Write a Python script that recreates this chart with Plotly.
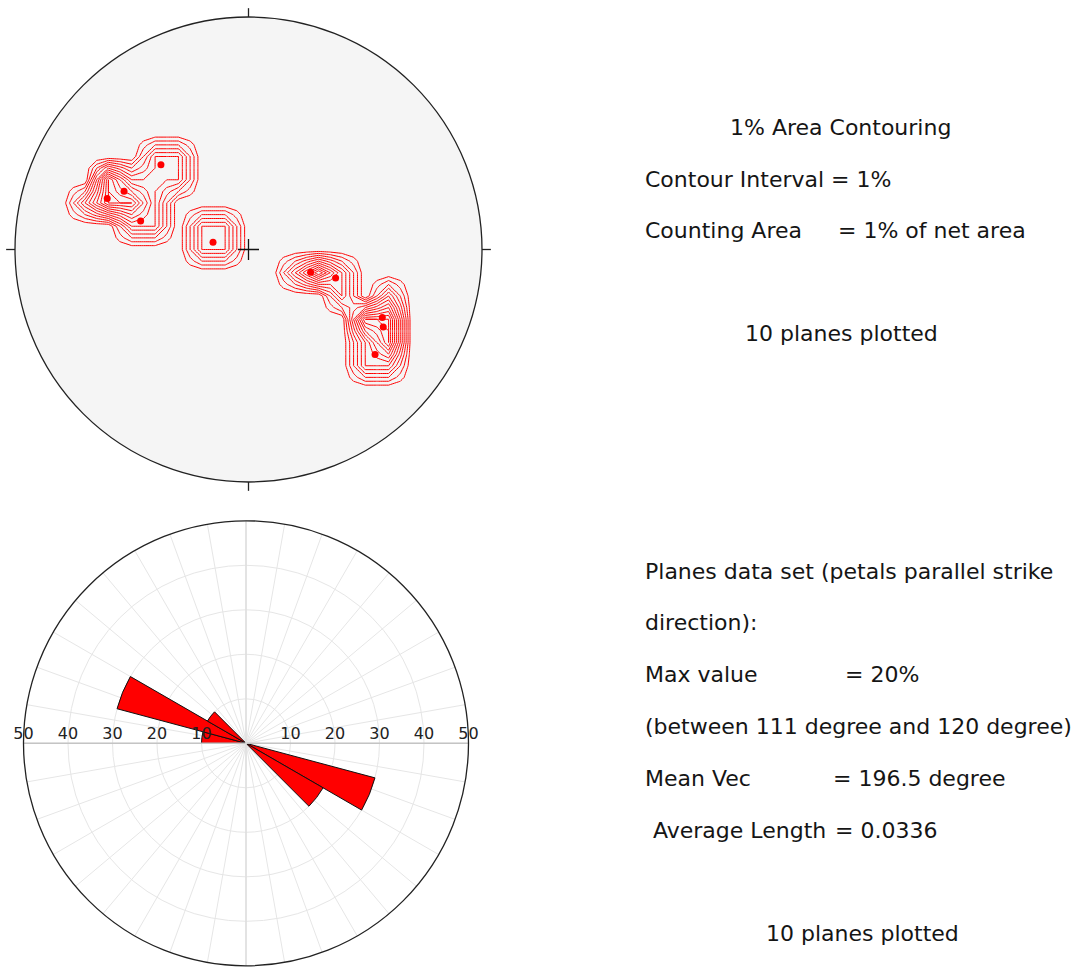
import numpy as np
import plotly.graph_objects as go

# ---------------------------------------------------------------------------
# Data
# ---------------------------------------------------------------------------
# Poles to the 10 planes on the lower-hemisphere equal-area net
# (unit net radius, +x = east, +y = north)
pole_x = [-0.375, -0.533, -0.605, -0.462, -0.152, 0.266, 0.373, 0.573, 0.577, 0.542]
pole_y = [0.365, 0.251, 0.219, 0.123, 0.031, -0.098, -0.123, -0.292, -0.333, -0.452]

# Rose diagram: azimuth where each petal's bin starts (deg) and its length (%)
rose_bin_start = [105, 120, 270, 285, 300]
rose_percent = [30, 20, 10, 30, 10]
rose_ring_labels = [10, 20, 30, 40, 50]

# Text panels
contour_title = "1% Area Contouring"
contour_rows = [("Contour Interval", "= 1%"), ("Counting Area", "= 1% of net area")]
rose_rows = [
    ("Planes data set (petals parallel strike", None),
    ("direction):", None),
    ("Max value", "= 20%"),
    ("(between 111 degree and 120 degree)", None),
    ("Mean Vec", "= 196.5 degree"),
    ("Average Length", "= 0.0336"),
]
planes_note = "10 planes plotted"

# ---------------------------------------------------------------------------
# Settings
# ---------------------------------------------------------------------------
W, H = 1072, 969
FONT = "DejaVu Sans"
RED = "#ff0000"

GRID_STEP = 0.1          # counting grid spacing (net radii)
COUNT_RADIUS = 0.1       # counting circle = 1% of the net area
PERCENT_PER_POLE = 6
CONTOUR_INTERVAL = 1
REFINE = 2               # bilinear refinement of the counting grid for contouring
ROSE_BIN_WIDTH = 15
ROSE_MAX = 50
NET_TICK = 0.038         # tick length outside the net (net radii)
ROSE_TICK = 1.6          # tick length outside the rose (radial units)


def px_x(p):
    return p / W


def px_y(p):
    return 1 - p / H


# ---------------------------------------------------------------------------
# Counting-circle density on a regular grid
# ---------------------------------------------------------------------------
nodes = np.arange(-10, 11) * GRID_STEP
gx, gy = np.meshgrid(nodes, nodes)
px = np.asarray(pole_x)
py = np.asarray(pole_y)
dist = np.hypot(gx[..., None] - px, gy[..., None] - py)
density = (dist <= COUNT_RADIUS + 1e-9).sum(axis=-1) * PERCENT_PER_POLE

# bilinear refinement (separable linear interpolation along rows, then columns)
fine = np.arange(-10 * REFINE, 10 * REFINE + 1) * GRID_STEP / REFINE
rows = np.array([np.interp(fine, nodes, row) for row in density.astype(float)])
density_fine = np.array([np.interp(fine, nodes, col) for col in rows.T]).T

fig = go.Figure()

fig.add_trace(go.Contour(
    x=fine, y=fine, z=density_fine,
    autocontour=False,
    contours=dict(start=CONTOUR_INTERVAL - 0.001, end=float(density.max()),
                  size=CONTOUR_INTERVAL, coloring="none"),
    line=dict(width=1, smoothing=0, color=RED),
    showscale=False, hoverinfo="skip",
    xaxis="x", yaxis="y",
))

# poles
fig.add_trace(go.Scatter(
    x=pole_x, y=pole_y, mode="markers",
    marker=dict(color=RED, size=7, line=dict(width=0)),
    hoverinfo="skip", xaxis="x", yaxis="y",
))

# centre cross
fig.add_trace(go.Scatter(
    x=[0], y=[0], mode="markers",
    marker=dict(symbol="cross-thin", size=15, line=dict(color="#111", width=1.3)),
    hoverinfo="skip", xaxis="x", yaxis="y",
))

# N/E/S/W ticks of the net
tx, ty = [], []
for az in (0, 90, 180, 270):
    a = np.radians(az)
    for r in (1.0, 1.0 + NET_TICK):
        tx.append(np.sin(a) * r)
        ty.append(np.cos(a) * r)
    tx.append(None)
    ty.append(None)
fig.add_trace(go.Scatter(
    x=tx, y=ty, mode="lines", line=dict(color="#222", width=1.3),
    hoverinfo="skip", xaxis="x", yaxis="y", cliponaxis=False,
))

# ---------------------------------------------------------------------------
# Rose diagram
# ---------------------------------------------------------------------------
# E-W and N-S reference axes
fig.add_trace(go.Scatterpolar(
    r=[ROSE_MAX, 0, ROSE_MAX], theta=[270, 270, 90], mode="lines",
    line=dict(color="#c4c4c4", width=1.5), hoverinfo="skip", subplot="polar",
))
fig.add_trace(go.Scatterpolar(
    r=[ROSE_MAX, 0, ROSE_MAX], theta=[0, 0, 180], mode="lines",
    line=dict(color="#dedede", width=1.5), hoverinfo="skip", subplot="polar",
))

# scale labels along the E-W axis
fig.add_trace(go.Scatterpolar(
    r=rose_ring_labels + rose_ring_labels,
    theta=[90] * len(rose_ring_labels) + [270] * len(rose_ring_labels),
    text=[str(v) for v in rose_ring_labels] * 2,
    mode="text", textposition="top center",
    textfont=dict(family=FONT, size=16, color="#222"),
    hoverinfo="skip", subplot="polar", cliponaxis=False,
))

fig.add_trace(go.Barpolar(
    r=rose_percent,
    theta=[s + ROSE_BIN_WIDTH / 2 for s in rose_bin_start],
    width=[ROSE_BIN_WIDTH] * len(rose_percent),
    marker=dict(color=RED, line=dict(color="#111", width=1)),
    hoverinfo="skip", subplot="polar",
))

# outer ticks of the rose
rt_r, rt_t = [], []
for az in (0, 90, 180, 270):
    rt_r += [ROSE_MAX, ROSE_MAX + ROSE_TICK, None]
    rt_t += [az, az, None]
fig.add_trace(go.Scatterpolar(
    r=rt_r, theta=rt_t, mode="lines", line=dict(color="#222", width=1.3),
    hoverinfo="skip", subplot="polar", cliponaxis=False, connectgaps=False,
))

# ---------------------------------------------------------------------------
# Layout
# ---------------------------------------------------------------------------
net_cx, net_cy, net_rx, net_ry = 248.5, 249.5, 233.5, 232.5
pad = 1.06
rose_cx, rose_cy, rose_r = 246.0, 743.3, 222.5

annotations = []


def add_text(text, x, y, anchor="left"):
    annotations.append(dict(
        text=text, x=px_x(x), y=px_y(y), xref="paper", yref="paper",
        xanchor=anchor, yanchor="middle", showarrow=False,
        font=dict(family=FONT, size=22, color="#151515"),
    ))


add_text(contour_title, 840, 127, "center")
value_x_top = [829, 836]
for (label, value), y, vx in zip(contour_rows, [179, 231], value_x_top):
    add_text(label, 643, y)
    add_text(value, vx, y)
add_text(planes_note, 841, 333, "center")

label_x_low = {"Average Length": 651}
value_x_low = {"Max value": 843, "Mean Vec": 831, "Average Length": 833}
for (label, value), y in zip(rose_rows, [571, 622, 674, 726, 778, 830]):
    add_text(label, label_x_low.get(label, 643), y)
    if value:
        add_text(value, value_x_low[label], y)
add_text(planes_note, 862, 933, "center")

fig.update_layout(
    width=W, height=H,
    margin=dict(l=0, r=0, t=0, b=0),
    paper_bgcolor="white", plot_bgcolor="rgba(0,0,0,0)",
    showlegend=False,
    xaxis=dict(domain=[px_x(net_cx - pad * net_rx), px_x(net_cx + pad * net_rx)],
               range=[-pad, pad], visible=False, fixedrange=True),
    yaxis=dict(domain=[px_y(net_cy + pad * net_ry), px_y(net_cy - pad * net_ry)],
               range=[-pad, pad], visible=False, fixedrange=True),
    shapes=[dict(type="circle", xref="x", yref="y", x0=-1, y0=-1, x1=1, y1=1,
                 fillcolor="#f5f5f5", line=dict(color="#222", width=1.3), layer="below")],
    polar=dict(
        domain=dict(x=[px_x(rose_cx - rose_r), px_x(rose_cx + rose_r)],
                    y=[px_y(rose_cy + rose_r), px_y(rose_cy - rose_r)]),
        bgcolor="white",
        angularaxis=dict(rotation=90, direction="clockwise", tickmode="linear",
                         tick0=0, dtick=10, showticklabels=False, ticks="",
                         gridcolor="#e6e6e6", gridwidth=1.2,
                         showline=True, linecolor="#222", linewidth=1.3),
        radialaxis=dict(range=[0, ROSE_MAX], tickmode="linear", tick0=0, dtick=10,
                        showticklabels=False, ticks="", showline=False,
                        gridcolor="#e6e6e6", gridwidth=1.2),
    ),
    annotations=annotations,
)

fig.write_html("out.html")
